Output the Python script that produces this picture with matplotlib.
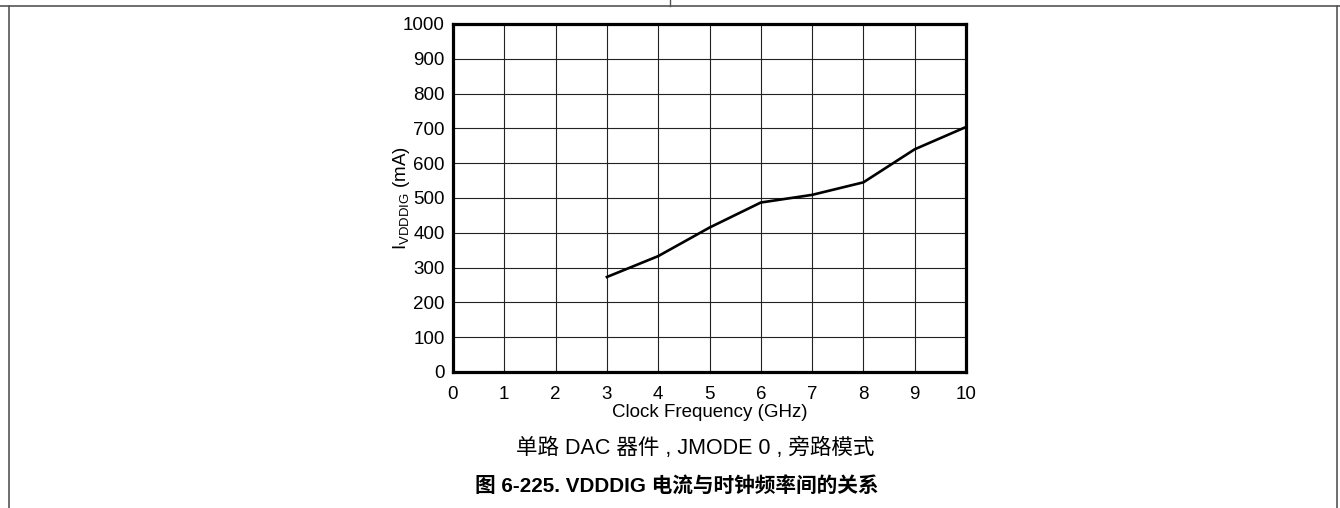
import matplotlib
matplotlib.use('Agg')
import matplotlib.pyplot as plt
from matplotlib.lines import Line2D

plt.rcParams['font.family'] = ['Liberation Sans', 'Noto Sans CJK SC', 'DejaVu Sans']
plt.rcParams['mathtext.fontset'] = 'custom'
plt.rcParams['mathtext.rm'] = 'Liberation Sans'

freq_ghz = [3, 4, 5, 6, 7, 8, 9, 10]
i_vdddig_ma = [273, 333, 415, 487, 509, 545, 640, 704]
x_ticks = list(range(0, 11))
y_ticks = list(range(0, 1001, 100))

caption = '单路 DAC 器件 , JMODE 0 , 旁路模式'
title = '图 6-225. VDDDIG 电流与时钟频率间的关系'

fig = plt.figure(figsize=(13.4, 5.08), dpi=100)
W, H = 1340, 508
ax = fig.add_axes([453 / W, 1 - 372 / H, (966 - 453) / W, (372 - 24) / H])

ax.plot(freq_ghz, i_vdddig_ma, color='black', lw=1.9, solid_joinstyle='round')
ax.set_xlim(0, 10)
ax.set_ylim(0, 1000)
ax.set_xticks(x_ticks)
ax.set_yticks(y_ticks)
ax.grid(True, color='#222222', lw=0.8)
ax.set_axisbelow(True)
ax.tick_params(length=0, labelsize=13.5)
ax.tick_params(axis='x', pad=10)
ax.tick_params(axis='y', pad=6)
for s in ax.spines.values():
    s.set_linewidth(2.3)
    s.set_color('black')

ax.set_xlabel('Clock Frequency (GHz)', fontsize=13.5, labelpad=1)
ax.set_ylabel(r'I$_{\mathregular{VDDDIG}}$ (mA)', fontsize=13.5, va='center')
ax.yaxis.set_label_coords((401 - 453) / 513, 0.5)

fig.text(695 / W, 1 - 448 / H, caption, ha='center', va='center', fontsize=15.5)
fig.text(677 / W, 1 - 487 / H, title, ha='center', va='center', fontsize=14.9,
         fontweight='bold')

# page frame lines
frame = '#555555'
fig.add_artist(Line2D([0, 1], [1 - 6 / H, 1 - 6 / H], color=frame, lw=1.2))
fig.add_artist(Line2D([670 / W, 670 / W], [1 - 6 / H, 1], color=frame, lw=1.0))
fig.add_artist(Line2D([8.5 / W, 8.5 / W], [0, 1 - 6 / H], color=frame, lw=1.2))
fig.add_artist(Line2D([1336.5 / W, 1336.5 / W], [0, 1 - 6 / H], color=frame, lw=1.2))

fig.savefig('out.png', dpi=100)
